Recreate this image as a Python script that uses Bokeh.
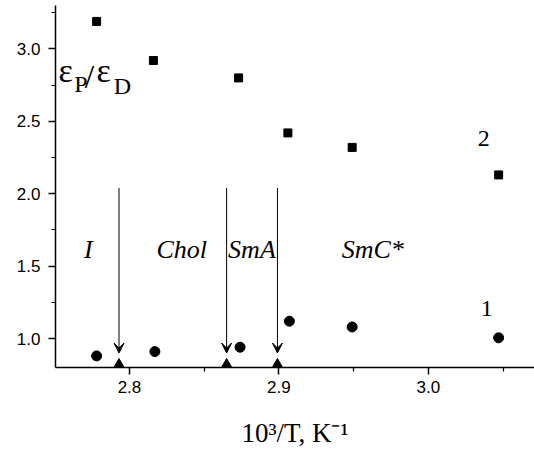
from bokeh.plotting import figure
from bokeh.models import (FixedTicker, Label, Arrow, VeeHead, Range1d,
                          CustomJSTickFormatter)
from bokeh.embed import file_html
from bokeh.resources import INLINE

# Series 2 (squares)
x2 = [2.778, 2.816, 2.873, 2.906, 2.949, 3.047]
y2 = [3.19, 2.92, 2.80, 2.42, 2.32, 2.13]
# Series 1 (circles)
x1 = [2.778, 2.817, 2.874, 2.907, 2.949, 3.047]
y1 = [0.88, 0.91, 0.94, 1.12, 1.08, 1.005]
# Phase transitions (triangles on the axis + arrows)
xt = [2.793, 2.865, 2.899]
yt = [0.81, 0.81, 0.81]
arrow_top = 2.04
arrow_tip = 0.90

x_ticks = [2.8, 2.9, 3.0]
x_minor = [2.75, 2.85, 2.95, 3.05]
y_ticks = [1.0, 1.5, 2.0, 2.5, 3.0]
y_minor = [1.25, 1.75, 2.25, 2.75, 3.25]

phase_names = ["I", "Chol", "SmA", "SmC*"]
phase_x = [2.7725, 2.818, 2.866, 2.942]
phase_y = 1.615

SERIF = "Liberation Serif"
SANS = "Liberation Sans"

p = figure(width=534, height=450, output_backend="svg", toolbar_location=None,
           x_range=Range1d(2.7505, 3.071), y_range=Range1d(0.8, 3.3),
           min_border_left=55, min_border_right=0, min_border_top=5,
           min_border_bottom=83)
p.outline_line_color = None
p.grid.visible = False
p.background_fill_color = "white"
p.border_fill_color = "white"

for ax in (p.xaxis[0], p.yaxis[0]):
    ax.axis_line_width = 1.5
    ax.major_tick_line_width = 1.5
    ax.minor_tick_line_width = 1.2
    ax.major_tick_in = 0
    ax.major_tick_out = 7
    ax.minor_tick_in = 0
    ax.minor_tick_out = 4
    ax.major_label_text_font = SANS
    ax.major_label_text_font_size = "17px"
    ax.major_label_text_color = "black"
    ax.axis_line_color = "black"
    ax.major_tick_line_color = "black"
    ax.minor_tick_line_color = "black"

p.xaxis.ticker = FixedTicker(ticks=x_ticks, minor_ticks=x_minor)
p.yaxis.ticker = FixedTicker(ticks=y_ticks, minor_ticks=y_minor)
fmt = CustomJSTickFormatter(code="return tick.toFixed(1);")
p.xaxis.formatter = fmt
p.yaxis.formatter = fmt
p.xaxis.major_label_standoff = 6
p.yaxis.major_label_standoff = 8

p.xaxis.axis_label = "10³/T, K⁻¹"
p.xaxis.axis_label_text_font = SERIF
p.xaxis.axis_label_text_font_style = "normal"
p.xaxis.axis_label_text_font_size = "27px"
p.xaxis.axis_label_text_color = "black"
p.xaxis.axis_label_standoff = 22

p.scatter(x2, y2, marker="square", size=8, color="black")
p.scatter(x1, y1, marker="circle", size=10, color="black")
p.scatter(xt, yt, marker="triangle", size=13, color="black")

for xv in xt:
    p.add_layout(Arrow(end=VeeHead(size=10, fill_color="black", line_color="black", line_width=1),
                       x_start=xv, y_start=arrow_top, x_end=xv, y_end=arrow_tip,
                       line_color="black", line_width=1))

for name, xv in zip(phase_names, phase_x):
    p.add_layout(Label(x=xv, y=phase_y, text=name, text_font=SERIF,
                       text_font_style="italic", text_font_size="26px",
                       text_align="center" if name == "I" else "left",
                       text_baseline="alphabetic", text_color="black"))

# series labels
p.add_layout(Label(x=3.0370, y=2.38, text="2", text_font=SERIF, text_font_size="24px",
                   text_align="center", text_baseline="alphabetic", text_color="black"))
p.add_layout(Label(x=3.0390, y=1.21, text="1", text_font=SERIF, text_font_size="24px",
                   text_align="center", text_baseline="alphabetic", text_color="black"))

# y-axis quantity label  eps_P / eps_D
def lab(xv, yv, t, size):
    p.add_layout(Label(x=xv, y=yv, text=t, text_font=SERIF, text_font_size=size,
                       text_align="left", text_baseline="alphabetic", text_color="black"))

lab(2.7525, 2.85, "ε", "34px")
lab(2.7630, 2.76, "P", "24px")
lab(2.7700, 2.81, "/", "34px")
lab(2.7780, 2.85, "ε", "34px")
lab(2.7895, 2.745, "D", "24px")

open("out.html", "w").write(file_html(p, INLINE))
